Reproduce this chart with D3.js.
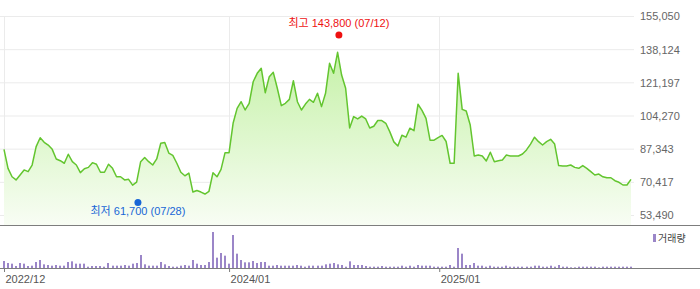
<!DOCTYPE html>
<html>
<head>
<meta charset="utf-8">
<script src="https://cdn.jsdelivr.net/npm/d3@7/dist/d3.min.js"></script>
<style>
    body { margin: 0; background: #fff; }
    svg { display: block; font-family: "Liberation Sans", Arial, "Noto Sans CJK KR", sans-serif; }
</style>
</head>
<body>
<svg id="chart"></svg>
<script>
"use strict";

// weekly closes, first week 2022-12-05
var startDate = "2022-12-05";
var prices = [
    87000, 77300, 73000, 71400, 73900, 76500, 75600, 79000, 88400, 92900,
    90600, 89200, 87000, 82100, 81200, 79900, 84500, 80700, 79000, 75100,
    77100, 77800, 80200, 79400, 75300, 75300, 79400, 77300, 73000, 73000,
    71400, 71700, 68700, 70300, 80700, 82800, 80700, 79000, 82100, 90100,
    90500, 85100, 83900, 79900, 75300, 73500, 74900, 65200, 66000, 65200,
    64200, 65600, 75100, 73000, 76800, 85300, 85300, 100300, 107900, 111300,
    107100, 110500, 121500, 125800, 128400, 115900, 124100, 126300, 118200, 109300,
    110500, 112500, 122000, 111300, 107100, 110100, 112500, 111000, 115600, 108800,
    115600, 130900, 125800, 136500, 124900, 118200, 97900, 103700, 102500, 104000,
    102500, 97900, 98800, 101700, 101700, 100300, 95900, 90800, 88700, 94200,
    93200, 97800, 96500, 110000, 106900, 102800, 91700, 91700, 93000, 94100,
    91000, 79900, 79900, 125800, 107400, 106600, 99400, 83600, 84100, 83600,
    81100, 85500, 80700, 81200, 81600, 84100, 83600, 83600, 83600, 84600,
    86700, 89700, 93200, 90900, 89200, 90900, 92100, 89700, 78700, 78500,
    78500, 79000, 77800, 77300, 78700, 77300, 75600, 73900, 74400, 73000,
    72500, 72500, 71000, 70200, 68800, 68800, 71700
];
// weekly volume, thousand shares
var volumes = [
    420, 300, 260, 120, 300, 260, 120, 140, 360, 480,
    220, 180, 140, 180, 140, 140, 360, 400, 260, 260,
    260, 80, 120, 120, 120, 80, 300, 140, 140, 140,
    180, 140, 260, 300, 780, 220, 140, 140, 140, 360,
    220, 120, 80, 80, 140, 180, 140, 480, 260, 180,
    180, 360, 2160, 620, 900, 740, 260, 1980, 860, 480,
    340, 340, 420, 300, 360, 360, 140, 140, 180, 140,
    140, 140, 140, 180, 140, 80, 140, 140, 140, 140,
    220, 260, 300, 220, 180, 80, 400, 180, 180, 180,
    120, 80, 80, 80, 120, 80, 80, 80, 80, 140,
    80, 140, 80, 180, 140, 140, 140, 80, 80, 80,
    80, 180, 80, 1200, 860, 180, 180, 300, 140, 140,
    80, 140, 80, 80, 80, 140, 80, 80, 80, 80,
    80, 80, 140, 140, 80, 80, 140, 80, 180, 80,
    80, 40, 40, 80, 80, 80, 80, 80, 40, 80,
    80, 80, 80, 80, 80, 80, 80
];
var priceTicks = [53490, 70417, 87343, 104270, 121197, 138124, 155050];
var dateTicks = ["2022-12-05", "2024-01-01", "2025-01-01"];

var high = { date: "2024-07-12", value: 143800, label: "최고" };
var low = { date: "2023-07-28", value: 61700, label: "최저" };

var width = 700;
var height = 289;

var parse = d3.timeParse("%Y-%m-%d");
var t0 = parse(startDate);
var data = prices.map(function (p, i) {
    return { date: d3.timeDay.offset(t0, i * 7), price: p, volume: volumes[i] };
});

var svg = d3.select("#chart")
    .attr("width", width)
    .attr("height", height);

// scales
var xScale = d3.scaleTime()
    .domain(d3.extent(data, d => d.date))
    .range([4, 631]);
var yScale = d3.scaleLinear()
    .domain([53490, 155050])
    .range([215, 16]);
var vScale = d3.scaleLinear()
    .domain([0, d3.max(volumes)])
    .range([268, 232]);

var plotBottom = 225;

// gradient for the area
var grad = svg.append("defs").append("linearGradient")
    .attr("id", "areaFill")
    .attr("gradientUnits", "userSpaceOnUse")
    .attr("x1", 0).attr("x2", 0)
    .attr("y1", 16).attr("y2", plotBottom);
grad.append("stop").attr("offset", "0%").attr("stop-color", "#bbef98");
grad.append("stop").attr("offset", "100%").attr("stop-color", "#f8fdf4");

// horizontal grid + right labels
var yAxis = d3.axisRight(yScale)
    .tickValues(priceTicks)
    .tickSize(634)
    .tickFormat(d3.format(","));

svg.append("g")
    .attr("class", "y-axis")
    .call(yAxis)
    .call(g => g.select(".domain").remove())
    .call(g => g.selectAll("line").attr("stroke", "#ebebeb"))
    .call(g => g.selectAll("text")
        .attr("x", 640)
        .attr("dy", "0.35em")
        .attr("fill", "#666")
        .style("font-size", "11px"));

// vertical grid lines at the date ticks
svg.append("g")
    .selectAll("line")
    .data(dateTicks)
    .enter()
    .append("line")
    .attr("x1", d => Math.round(xScale(parse(d))) + 0.5)
    .attr("x2", d => Math.round(xScale(parse(d))) + 0.5)
    .attr("y1", 16)
    .attr("y2", plotBottom)
    .attr("stroke", "#ebebeb");

// price area + line
var area = d3.area()
    .x(d => xScale(d.date))
    .y0(plotBottom)
    .y1(d => yScale(d.price));
var line = d3.line()
    .x(d => xScale(d.date))
    .y(d => yScale(d.price));

svg.append("path")
    .datum(data)
    .attr("d", area)
    .attr("fill", "url(#areaFill)");

svg.append("path")
    .datum(data)
    .attr("d", line)
    .attr("fill", "none")
    .attr("stroke", "#63c52f")
    .attr("stroke-width", 1.5)
    .attr("stroke-linejoin", "round");

// panel separators
svg.append("line")
    .attr("x1", 0).attr("x2", width)
    .attr("y1", plotBottom + 0.5).attr("y2", plotBottom + 0.5)
    .attr("stroke", "#7d7d7d");

// volume bars
svg.append("g")
    .selectAll("rect")
    .data(data)
    .enter()
    .append("rect")
    .attr("x", d => Math.round(xScale(d.date)) - 1)
    .attr("width", 2)
    .attr("y", d => vScale(d.volume))
    .attr("height", d => vScale(0) - vScale(d.volume))
    .attr("fill", "#9b86c8");

// bottom date axis
var xAxis = d3.axisBottom(xScale)
    .tickValues(dateTicks.map(parse))
    .tickSize(4)
    .tickFormat(d3.timeFormat("%Y/%m"));

svg.append("g")
    .attr("transform", "translate(0,268)")
    .call(xAxis)
    .call(g => g.select(".domain").remove())
    .call(g => g.selectAll("line").attr("stroke", "#7d7d7d"))
    .call(g => g.selectAll("text")
        .attr("text-anchor", "start")
        .attr("x", 1)
        .attr("y", 15)
        .attr("dy", 0)
        .attr("fill", "#555")
        .style("font-size", "11px"));

svg.append("line")
    .attr("x1", 0).attr("x2", width)
    .attr("y1", 268.5).attr("y2", 268.5)
    .attr("stroke", "#7d7d7d");

// volume legend
svg.append("rect")
    .attr("x", 653).attr("y", 234)
    .attr("width", 3).attr("height", 8)
    .attr("fill", "#9b86c8");
svg.append("text")
    .attr("x", 658).attr("y", 241.5)
    .attr("fill", "#444")
    .style("font-size", "10px")
    .text("거래량");

// high / low markers
var fmt = d3.format(",");
var md = d3.timeFormat("%m/%d");

function marker(m, color, dotOff, textOff) {
    var x = xScale(parse(m.date)) - 1;
    var y = yScale(m.value);
    svg.append("circle")
        .attr("cx", x)
        .attr("cy", y + dotOff)
        .attr("r", 3.5)
        .attr("fill", color);
    svg.append("text")
        .attr("x", x)
        .attr("y", y + textOff)
        .attr("text-anchor", "middle")
        .attr("fill", color)
        .style("font-size", "11px")
        .text(m.label + " " + fmt(m.value) + " (" + md(parse(m.date)) + ")");
}

marker(high, "#ee1111", -3, -11);
marker(low, "#1866d6", 3.5, 16);
</script>
</body>
</html>
